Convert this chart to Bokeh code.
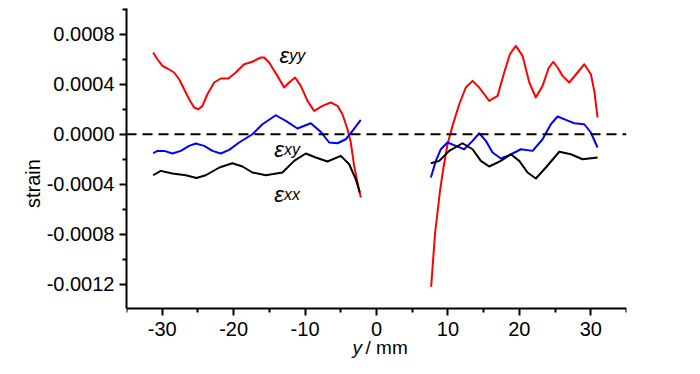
from bokeh.plotting import figure
from bokeh.models import Label, Span, FixedTicker, PrintfTickFormatter, Range1d
from bokeh.embed import file_html
from bokeh.resources import INLINE

# ---- data ----
yy_x_left = [-31.27, -30.67, -29.97, -29.27, -28.33, -27.63, -26.93, -26.23, -25.53,
             -24.93, -24.37, -23.67, -22.73, -21.8, -20.73, -19.7, -18.53, -17.37,
             -16.2, -15.73, -15.03, -13.87, -12.93, -12.23, -11.39, -10.6, -9.66,
             -8.73, -7.56, -6.4, -5.46, -4.76, -4.06, -3.6, -3.13, -2.66, -2.2]
eyy_left = [0.000654, 0.0006, 0.000547, 0.000526, 0.000494, 0.00044, 0.00036, 0.00028,
            0.000214, 0.0002, 0.000227, 0.00032, 0.000414, 0.000446, 0.000446,
            0.000494, 0.00056, 0.00058, 0.000614, 0.000614, 0.000574, 0.000467,
            0.000374, 0.000414, 0.000454, 0.000387, 0.000267, 0.000187, 0.000227,
            0.000254, 0.000227, 0.00016, 0.00004, -0.000066, -0.000253, -0.000386,
            -0.000506]

xy_x_left = [-31.27, -30.67, -29.73, -28.57, -27.4, -26.23, -25.3, -24.13, -22.97,
             -21.8, -20.63, -19.23, -17.37, -15.97, -14.1, -12.7, -11.06, -9.2, -7.8,
             -6.62, -5.46, -4.3, -3.36, -2.2]
exy_left = [-0.000152, -0.000133, -0.000133, -0.000154, -0.000133, -0.000093, -0.000074,
            -0.000093, -0.000133, -0.000154, -0.000125, -0.000066, 0.0, 0.00008,
            0.000152, 0.000107, 0.000046, 0.000088, 0.000019, -0.000066, -0.000072,
            -0.00004, 0.000027, 0.000115]

xx_x_left = [-31.27, -30.2, -28.57, -26.7, -25.2, -23.9, -22.0, -20.17, -18.77, -17.37,
             -15.5, -13.17, -11.53, -9.9, -8.5, -6.86, -5.0, -3.82, -2.9, -2.34]
exx_left = [-0.000328, -0.000293, -0.000314, -0.000328, -0.00035, -0.000328, -0.000266,
            -0.000232, -0.000258, -0.000306, -0.000328, -0.000306, -0.000213,
            -0.000154, -0.000186, -0.000218, -0.000173, -0.00024, -0.00036, -0.000466]

yy_x_right = [7.65, 8.2, 8.9, 9.34, 9.94, 10.64, 11.58, 12.5, 13.45, 14.38, 15.78,
              16.95, 17.88, 18.67, 19.5, 20.45, 21.39, 22.3, 23.25, 24.1, 24.75, 25.4,
              26.05, 26.99, 28.15, 29.09, 30.01, 30.49, 30.95]
eyy_right = [-0.00122, -0.00079, -0.00045, -0.00028, -0.00008, 0.000067, 0.00024,
             0.000374, 0.000427, 0.000374, 0.000267, 0.000307, 0.000494, 0.00064,
             0.000707, 0.000627, 0.000414, 0.000294, 0.000387, 0.00053, 0.00058,
             0.00053, 0.000467, 0.000414, 0.000494, 0.00056, 0.00048, 0.000347,
             0.000134]

xy_x_right = [7.61, 8.31, 9.0, 9.94, 11.11, 12.28, 13.45, 14.38, 15.31, 16.25, 17.41,
              18.58, 20.21, 21.85, 23.25, 24.41, 25.35, 26.51, 27.69, 29.09, 30.01,
              30.95]
exy_right = [-0.000346, -0.000213, -0.00012, -0.000066, -0.000093, -0.00012, -0.000053,
             0.000008, -0.000053, -0.000146, -0.000194, -0.000168, -0.00012, -0.000133,
             -0.00004, 0.00008, 0.000142, 0.000115, 0.000088, 0.00008, 0.000014,
             -0.000106]

xx_x_right = [7.61, 8.78, 10.18, 12.04, 13.45, 14.61, 15.78, 17.41, 18.81, 19.99, 21.15,
              22.31, 23.71, 25.59, 27.21, 28.85, 30.95]
exx_right = [-0.000232, -0.000213, -0.000133, -0.000072, -0.00012, -0.000213, -0.000258,
             -0.000213, -0.00016, -0.000213, -0.000306, -0.000354, -0.000266, -0.00014,
             -0.00016, -0.0002, -0.000186]

x_major = [-30, -20, -10, 0, 10, 20, 30]
x_minor = [-35, -25, -15, -5, 5, 15, 25, 35]
y_major = [-0.0012, -0.0008, -0.0004, 0.0, 0.0004, 0.0008]
y_minor = [-0.001, -0.0006, -0.0002, 0.0002, 0.0006, 0.001]

Y_TOP = 0.001006
Y_AXIS_BOTTOM = -0.001394
Y_FRAME_BOTTOM = -0.001794

FONT = "Liberation Sans"

p = figure(width=684, height=358, output_backend="svg", toolbar_location=None,
           x_range=Range1d(-35, 35), y_range=Range1d(Y_FRAME_BOTTOM, Y_TOP),
           min_border_left=126, min_border_right=58, min_border_top=8,
           min_border_bottom=0)
p.grid.visible = False
p.outline_line_color = None
p.background_fill_color = "white"

p.add_layout(Span(location=0, dimension="width", line_color="black",
                  line_width=2, line_dash="10 6"))

for xs, ys, c in [(yy_x_left, eyy_left, "#ff0000"), (yy_x_right, eyy_right, "#ff0000"),
                  (xy_x_left, exy_left, "#0000ff"), (xy_x_right, exy_right, "#0000ff"),
                  (xx_x_left, exx_left, "black"), (xx_x_right, exx_right, "black")]:
    p.line(xs, ys, line_color=c, line_width=2, line_join="round")

for ax in (p.xaxis[0], p.yaxis[0]):
    ax.axis_line_width = 2
    ax.major_tick_line_width = 2
    ax.minor_tick_line_width = 2
    ax.major_tick_in = 0
    ax.minor_tick_in = 0
    ax.major_tick_out = 7
    ax.minor_tick_out = 4
    ax.major_label_text_font = FONT
    ax.major_label_text_font_size = "20px"
    ax.major_label_text_color = "black"
    ax.axis_line_color = "black"
    ax.major_tick_line_color = "black"
    ax.minor_tick_line_color = "black"

p.xaxis.ticker = FixedTicker(ticks=x_major, minor_ticks=x_minor)
p.yaxis.ticker = FixedTicker(ticks=y_major, minor_ticks=y_minor)
p.xaxis.formatter = PrintfTickFormatter(format="%d")
p.yaxis.formatter = PrintfTickFormatter(format="%.4f")
p.xaxis.major_label_standoff = 6
p.yaxis.major_label_standoff = 5
p.xaxis.fixed_location = Y_AXIS_BOTTOM
p.yaxis.bounds = (Y_AXIS_BOTTOM, Y_TOP)

p.yaxis.axis_label = "strain"
p.yaxis.axis_label_text_font = FONT
p.yaxis.axis_label_text_font_style = "normal"
p.yaxis.axis_label_text_font_size = "20px"
p.yaxis.axis_label_text_color = "black"
p.yaxis.axis_label_standoff = 0

# x-axis title: italic "y" + "/ mm" (screen units, relative to the frame)
p.add_layout(Label(x=226, y=11, x_units="screen", y_units="screen", text="y",
                   text_font=FONT, text_font_style="italic", text_font_size="19px",
                   text_baseline="alphabetic", text_color="black"))
p.add_layout(Label(x=239, y=11, x_units="screen", y_units="screen", text="/ mm",
                   text_font=FONT, text_font_size="19px", text_baseline="alphabetic",
                   text_color="black"))

# series labels
for ex, sx, y, sub in [(-13.59, -12.2, 0.000627, "yy"),
                       (-14.33, -12.95, -0.00012, "xy"),
                       (-14.33, -12.95, -0.00048, "xx")]:
    p.add_layout(Label(x=ex, y=y, text="\u03b5", text_font=FONT,
                       text_font_style="italic", text_font_size="22px",
                       text_baseline="alphabetic", text_color="black"))
    p.add_layout(Label(x=sx, y=y, text=sub, text_font=FONT,
                       text_font_style="italic", text_font_size="16px",
                       text_baseline="alphabetic", text_color="black"))

open("out.html", "w").write(file_html(p, INLINE))
